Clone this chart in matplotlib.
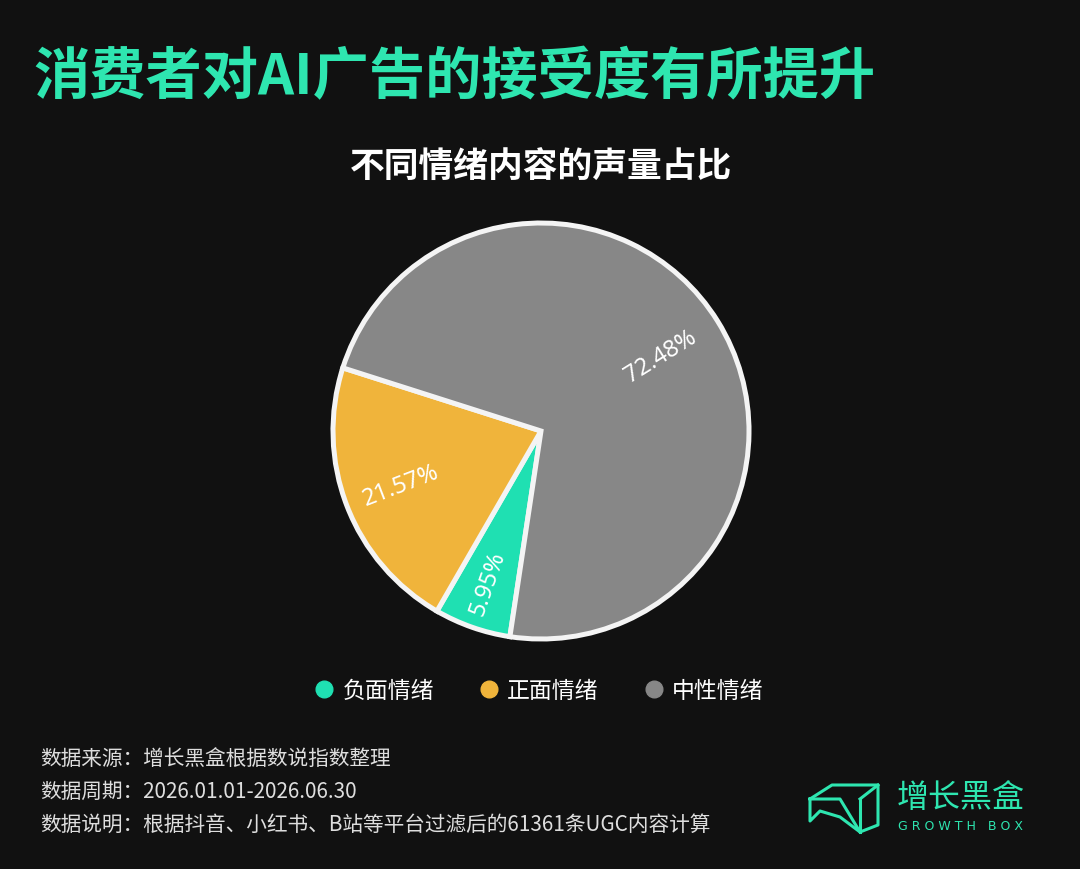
import numpy as np
import matplotlib
matplotlib.use("Agg")
import matplotlib.pyplot as plt
from matplotlib.lines import Line2D

# data
labels = ["负面情绪", "正面情绪", "中性情绪"]
shares = [5.95, 21.57, 72.48]
pct_text = ["5.95%", "21.57%", "72.48%"]
colors = ["#1fe0b2", "#f0b43b", "#878787"]
label_radius = [0.77, 0.72, 0.68]

title = "消费者对AI广告的接受度有所提升"
subtitle = "不同情绪内容的声量占比"
notes = ["数据来源：增长黑盒根据数说指数整理",
         "数据周期：2026.01.01-2026.06.30",
         "数据说明：根据抖音、小红书、B站等平台过滤后的61361条UGC内容计算"]

BG = "#111111"
TEAL = "#2ee6b0"
CJK = ["Noto Sans CJK SC", "DejaVu Sans"]

plt.rcParams["font.family"] = CJK

W, H = 1080, 870
fig = plt.figure(figsize=(W / 100, H / 100), dpi=100, facecolor=BG)

def fx(x):
    return x / W

def fy(y):
    return 1 - y / H

# titles
fig.text(fx(33), fy(78), title, color=TEAL, fontsize=40.5, fontweight="bold",
         ha="left", va="center")
fig.text(fx(541), fy(167), subtitle, color="white", fontsize=25, fontweight="bold",
         ha="center", va="center")

# pie
cx, cy, r = 541, 432, 208
lim = 1.05
ax = fig.add_axes([fx(cx - r * lim), fy(cy + r * lim), 2 * r * lim / W, 2 * r * lim / H])
ax.set_facecolor(BG)
wedges, _ = ax.pie(shares, colors=colors, startangle=-98.6, counterclock=False,
                   wedgeprops=dict(edgecolor="#f4f4f4", linewidth=3.6, joinstyle="miter"))
ax.set_xlim(-lim, lim)
ax.set_ylim(-lim, lim)
ax.set_aspect("equal")
ax.axis("off")

for w, txt, rr in zip(wedges, pct_text, label_radius):
    mid = (w.theta1 + w.theta2) / 2
    a = np.deg2rad(mid)
    rot = mid
    if 90 < mid % 360 < 270:
        rot = mid - 180
    ax.text(rr * np.cos(a), rr * np.sin(a), txt, color="white", fontsize=17,
            family=["Noto Sans", "DejaVu Sans"], ha="center", va="center",
            rotation=rot, rotation_mode="anchor")

# legend
handles = [Line2D([], [], marker="o", linestyle="", markersize=12,
                  markerfacecolor=c, markeredgecolor=c) for c in colors]
leg = fig.legend(handles, labels, loc="center", bbox_to_anchor=(fx(538), fy(692)),
                 ncol=3, frameon=False, fontsize=16.5, labelcolor="white",
                 handletextpad=0.3, columnspacing=1.9, handlelength=1.0)

# footer notes
for i, line in enumerate(notes):
    fig.text(fx(40), fy(759 + i * 33), line, color="#dedede", fontsize=14.9,
             ha="left", va="center")

# logo
icon = [(810, 800), (832, 786), (878, 786), (878, 826), (860, 833), (840, 818), (820, 812), (810, 822), (810, 800)]
xs = [fx(p[0]) for p in icon]
ys = [fy(p[1]) for p in icon]
fig.add_artist(Line2D(xs, ys, color=TEAL, linewidth=2.2, transform=fig.transFigure))
fig.add_artist(Line2D([fx(810), fx(840), fx(860)], [fy(800), fy(800), fy(833)],
                      color=TEAL, linewidth=2.2, transform=fig.transFigure))
fig.add_artist(Line2D([fx(860), fx(878)], [fy(800), fy(786)],
                      color=TEAL, linewidth=2.2, transform=fig.transFigure))
fig.add_artist(Line2D([fx(860), fx(860)], [fy(800), fy(833)],
                      color=TEAL, linewidth=2.2, transform=fig.transFigure))
fig.text(fx(897), fy(798), "增长黑盒", color=TEAL, fontsize=23, ha="left", va="center")
fig.text(fx(898), fy(827), "G R O W T H   B O X", color=TEAL, fontsize=9,
         family=["DejaVu Sans"], ha="left", va="center")

fig.savefig("out.png", dpi=100, facecolor=BG)
